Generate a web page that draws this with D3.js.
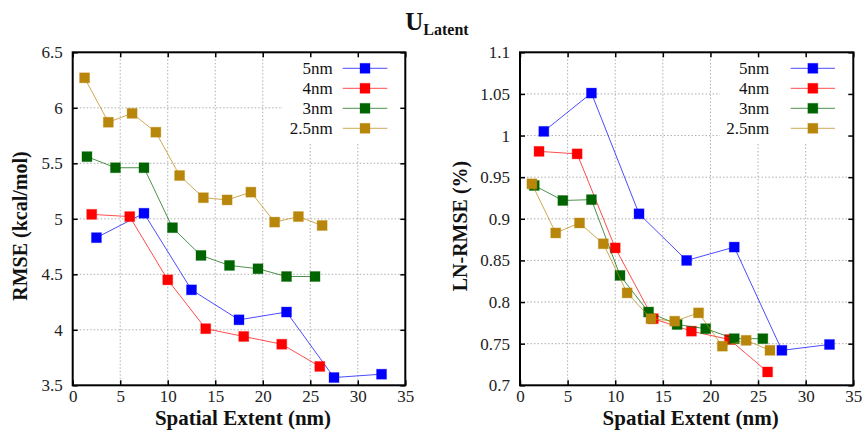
<!DOCTYPE html>
<html><head><meta charset="utf-8">
<script src="https://cdn.jsdelivr.net/npm/d3@7"></script>
<style>body{margin:0;background:#fff}svg{display:block}</style>
</head><body>
<svg id="c" width="868" height="431"></svg>
<script>
// ---- data ----
const seriesNames = ["5nm","4nm","3nm","2.5nm"];
const seriesColors = ["#0000ff","#ff0000","#006400","#b8860b"];
const x5 = [2.5,7.5,12.5,17.5,22.5,27.5,32.5];
const x4 = [2,6,10,14,18,22,26];
const x3 = [1.5,4.5,7.5,10.5,13.5,16.5,19.5,22.5,25.5];
const x25 = [1.25,3.75,6.25,8.75,11.25,13.75,16.25,18.75,21.25,23.75,26.25];
const rmse5 = [4.83,5.05,4.36,4.09,4.16,3.57,3.60];
const rmse4 = [5.04,5.02,4.45,4.01,3.94,3.87,3.67];
const rmse3 = [5.56,5.46,5.46,4.92,4.67,4.58,4.55,4.48,4.48];
const rmse25 = [6.27,5.87,5.95,5.78,5.39,5.19,5.17,5.24,4.97,5.02,4.94];
const ln5 = [1.005,1.051,0.906,0.850,0.866,0.742,0.749];
const ln4 = [0.981,0.978,0.865,0.780,0.765,0.755,0.716];
const ln3 = [0.940,0.922,0.923,0.832,0.788,0.773,0.768,0.756,0.756];
const ln25 = [0.942,0.883,0.895,0.870,0.811,0.780,0.777,0.787,0.747,0.754,0.742];
const xTicks = [0,5,10,15,20,25,30,35];
const yTicksLeft = [3.5,4,4.5,5,5.5,6,6.5];
const yTicksRight = [0.7,0.75,0.8,0.85,0.9,0.95,1,1.05,1.1];
const titleMain = "U", titleSub = "Latent";
const xLabel = "Spatial Extent (nm)";

const svg = d3.select("#c");
const FONT = "Liberation Serif";

function panel(cfg){
  const g = svg.append("g");
  const x = d3.scaleLinear().domain([0,35]).range([cfg.left,cfg.right]);
  const y = d3.scaleLinear().domain(cfg.ydom).range([cfg.bottom,cfg.top]);
  // grid
  const grid = g.append("g").attr("stroke","#9a9a9a").attr("stroke-width",0.8).attr("stroke-dasharray","1.5,2");
  xTicks.slice(1,-1).forEach(t=>{
    const px = x(t);
    const y0 = (px > cfg.legBoxX) ? cfg.legBoxY : cfg.top;
    grid.append("line").attr("x1",px).attr("x2",px).attr("y1",y0).attr("y2",cfg.bottom);
  });
  cfg.yticks.slice(1,-1).forEach(t=>{
    const py = y(t);
    const x1 = (py < cfg.legBoxY) ? cfg.legBoxX : cfg.right;
    grid.append("line").attr("x1",cfg.left).attr("x2",x1).attr("y1",py).attr("y2",py);
  });
  // axes with inward ticks
  const ax = g.append("g");
  const bottomAxis = d3.axisBottom(x).tickValues(xTicks).tickSize(-5).tickPadding(5).tickFormat(d3.format("d"));
  const topAxis = d3.axisTop(x).tickValues(xTicks).tickSize(-5).tickFormat("");
  const leftAxis = d3.axisLeft(y).tickValues(cfg.yticks).tickSize(-5).tickPadding(10).tickFormat(d=>String(+d.toFixed(2)));
  const rightAxis = d3.axisRight(y).tickValues(cfg.yticks).tickSize(-5).tickFormat("");
  [[bottomAxis,`translate(0,${cfg.bottom})`],[topAxis,`translate(0,${cfg.top})`],
   [leftAxis,`translate(${cfg.left},0)`],[rightAxis,`translate(${cfg.right},0)`]].forEach(([a,t])=>{
    const s = ax.append("g").attr("transform",t).call(a);
    s.attr("font-family",FONT).attr("font-size",17);
    s.select(".domain").remove();
    s.selectAll(".tick line").attr("stroke","#000").attr("stroke-width",1.5);
    s.selectAll("text").attr("fill","#222");
  });
  // legend
  const lg = g.append("g");
  seriesNames.forEach((n,i)=>{
    const ly = cfg.legY0 + i*20;
    lg.append("text").attr("x",cfg.legTextX).attr("y",ly).attr("dy","0.35em").attr("text-anchor","end")
      .attr("font-family",FONT).attr("font-size",17).attr("fill","#111").text(n);
    lg.append("line").attr("x1",cfg.legLineX0).attr("x2",cfg.legLineX1).attr("y1",ly).attr("y2",ly)
      .attr("stroke",seriesColors[i]).attr("stroke-width",1).attr("stroke-opacity",0.7);
    const mx = (cfg.legLineX0+cfg.legLineX1)/2;
    lg.append("rect").attr("x",mx-5).attr("y",ly-5).attr("width",10).attr("height",10)
      .attr("fill",seriesColors[i]).attr("stroke",seriesColors[i]).attr("stroke-opacity",0.3).attr("stroke-width",1);
  });
  // series
  const line = d3.line().x(d=>x(d[0])).y(d=>y(d[1]));
  cfg.series.forEach((s,i)=>{
    const pts = s.xs.map((xv,j)=>[xv,s.ys[j]]);
    g.append("path").datum(pts).attr("d",line).attr("fill","none")
      .attr("stroke",seriesColors[i]).attr("stroke-width",1).attr("stroke-opacity",0.7);
    g.selectAll(null).data(pts).enter().append("rect")
      .attr("x",d=>x(d[0])-5).attr("y",d=>y(d[1])-5).attr("width",10).attr("height",10)
      .attr("fill",seriesColors[i]).attr("stroke",seriesColors[i]).attr("stroke-opacity",0.3).attr("stroke-width",1);
  });
  // frame
  g.append("rect").attr("x",cfg.left).attr("y",cfg.top).attr("width",cfg.right-cfg.left).attr("height",cfg.bottom-cfg.top)
    .attr("fill","none").attr("stroke","#000").attr("stroke-width",2);
  // labels
  g.append("text").attr("x",(cfg.left+cfg.right)/2+4).attr("y",425).attr("text-anchor","middle")
    .attr("font-family",FONT).attr("font-weight","bold").attr("font-size",21).attr("fill","#111").text(xLabel);
  g.append("text").attr("transform",`translate(${cfg.ylabX},226) rotate(-90)`).attr("text-anchor","middle")
    .attr("font-family",FONT).attr("font-weight","bold").attr("font-size",20).attr("fill","#111").text(cfg.ylabel);
}

panel({left:72.7,right:405.3,top:52.3,bottom:385.3,ydom:[3.5,6.5],yticks:yTicksLeft,
  legBoxX:283,legBoxY:144,legY0:68.3,legTextX:332.7,legLineX0:342.7,legLineX1:387.3,
  ylabX:27,ylabel:"RMSE (kcal/mol)",
  series:[{xs:x5,ys:rmse5},{xs:x4,ys:rmse4},{xs:x3,ys:rmse3},{xs:x25,ys:rmse25}]});
panel({left:520,right:853.3,top:52.3,bottom:385.3,ydom:[0.7,1.1],yticks:yTicksRight,
  legBoxX:720,legBoxY:144,legY0:68.3,legTextX:769.3,legLineX0:790.7,legLineX1:835,
  ylabX:467,ylabel:"LN-RMSE (%)",
  series:[{xs:x5,ys:ln5},{xs:x4,ys:ln4},{xs:x3,ys:ln3},{xs:x25,ys:ln25}]});

// title
const t = svg.append("text").attr("x",437).attr("y",30).attr("text-anchor","middle")
  .attr("font-family",FONT).attr("font-weight","bold").attr("fill","#111");
t.append("tspan").attr("font-size",25).text(titleMain);
t.append("tspan").attr("font-size",16).attr("dy",5).text(titleSub);
</script>
</body></html>
